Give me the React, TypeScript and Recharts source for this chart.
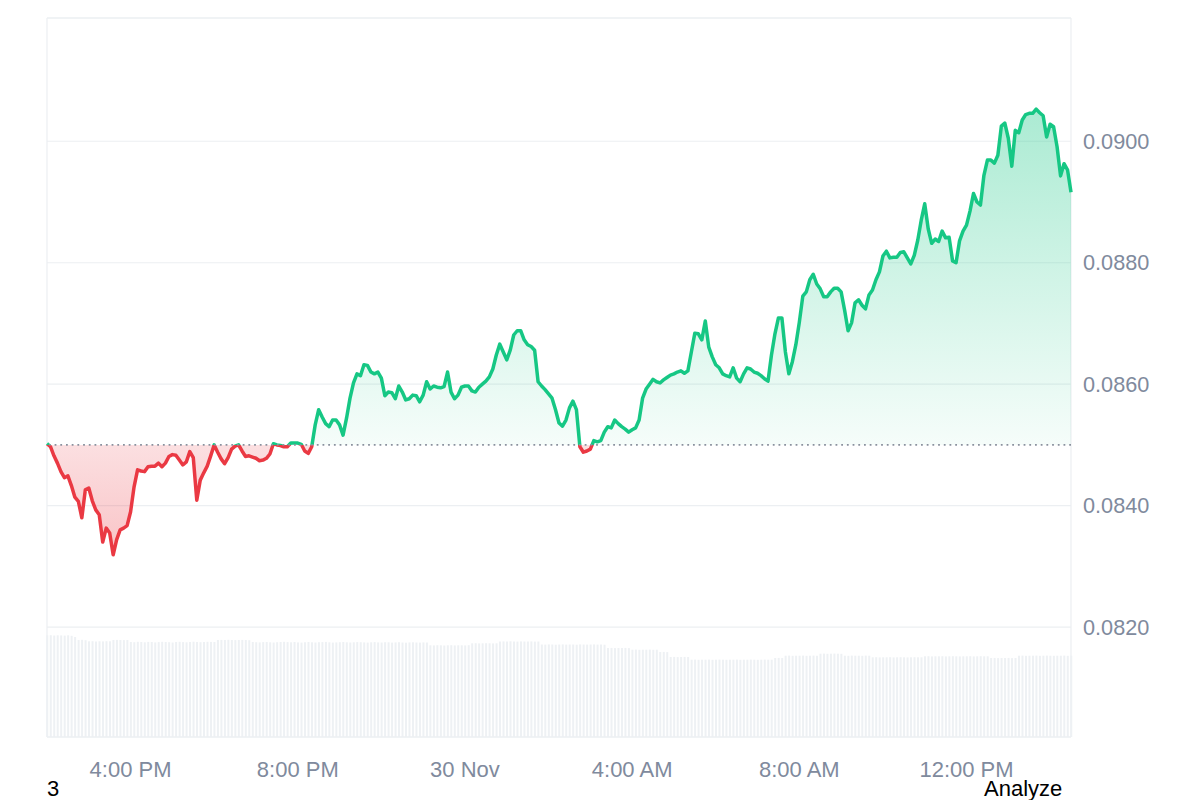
import React from 'react';
import { ComposedChart, Area, Bar, XAxis, YAxis, CartesianGrid, ReferenceLine } from 'recharts';

// 5-minute prices, starting 2:00 PM (29 Nov)
const prices = [
  0.08502, 0.08497, 0.08482, 0.08470, 0.08456, 0.08446, 0.08449, 0.08433, 0.08414, 0.08407,
  0.08380, 0.08426, 0.08429, 0.08408, 0.08393, 0.08385, 0.08340, 0.08363, 0.08355, 0.08319,
  0.08344, 0.08360, 0.08363, 0.08367, 0.08390, 0.08431, 0.08459, 0.08457, 0.08456, 0.08464,
  0.08465, 0.08465, 0.08470, 0.08464, 0.08470, 0.08481, 0.08484, 0.08483, 0.08475, 0.08467,
  0.08472, 0.08489, 0.08479, 0.08409, 0.08442, 0.08454, 0.08465, 0.08482, 0.08500, 0.08488,
  0.08477, 0.08469, 0.08479, 0.08493, 0.08498, 0.08500, 0.08490, 0.08481, 0.08482, 0.08480,
  0.08478, 0.08474, 0.08475, 0.08478, 0.08485, 0.08502, 0.08500, 0.08499, 0.08497, 0.08497,
  0.08503, 0.08503, 0.08503, 0.08501, 0.08490, 0.08486, 0.08497, 0.08533, 0.08558, 0.08546,
  0.08535, 0.08530, 0.08541, 0.08541, 0.08533, 0.08516, 0.08544, 0.08577, 0.08602, 0.08617,
  0.08614, 0.08632, 0.08631, 0.08620, 0.08617, 0.08620, 0.08610, 0.08581, 0.08587, 0.08586,
  0.08576, 0.08597, 0.08587, 0.08574, 0.08576, 0.08582, 0.08581, 0.08571, 0.08582, 0.08604,
  0.08592, 0.08597, 0.08595, 0.08594, 0.08596, 0.08620, 0.08587, 0.08576, 0.08582, 0.08595,
  0.08597, 0.08597, 0.08589, 0.08587, 0.08595, 0.08600, 0.08605, 0.08612, 0.08625, 0.08648,
  0.08666, 0.08653, 0.08640, 0.08656, 0.08681, 0.08688, 0.08688, 0.08673, 0.08665, 0.08662,
  0.08656, 0.08604, 0.08597, 0.08591, 0.08584, 0.08577, 0.08558, 0.08536, 0.08531, 0.08541,
  0.08561, 0.08572, 0.08558, 0.08497, 0.08488, 0.08490, 0.08493, 0.08507, 0.08505, 0.08507,
  0.08521, 0.08530, 0.08528, 0.08541, 0.08535, 0.08530, 0.08526, 0.08521, 0.08525, 0.08528,
  0.08541, 0.08577, 0.08592, 0.08600, 0.08608, 0.08604, 0.08602, 0.08607, 0.08611, 0.08615,
  0.08617, 0.08620, 0.08622, 0.08618, 0.08622, 0.08653, 0.08684, 0.08683, 0.08673, 0.08704,
  0.08661, 0.08645, 0.08632, 0.08627, 0.08617, 0.08614, 0.08612, 0.08627, 0.08610, 0.08604,
  0.08617, 0.08627, 0.08625, 0.08620, 0.08618, 0.08614, 0.08609, 0.08605, 0.08648, 0.08683,
  0.08709, 0.08709, 0.08653, 0.08617, 0.08637, 0.08665, 0.08702, 0.08745, 0.08752, 0.08772,
  0.08781, 0.08765, 0.08757, 0.08744, 0.08744, 0.08752, 0.08758, 0.08758, 0.08752, 0.08722,
  0.08688, 0.08701, 0.08734, 0.08739, 0.08730, 0.08724, 0.08747, 0.08755, 0.08772, 0.08785,
  0.08811, 0.08819, 0.08808, 0.08809, 0.08809, 0.08817, 0.08818, 0.08808, 0.08798, 0.08812,
  0.08837, 0.08870, 0.08897, 0.08856, 0.08832, 0.08839, 0.08835, 0.08852, 0.08841, 0.08842,
  0.08803, 0.08800, 0.08836, 0.08852, 0.08862, 0.08885, 0.08914, 0.08900, 0.08895, 0.08944,
  0.08969, 0.08969, 0.08964, 0.08977, 0.09025, 0.09030, 0.09005, 0.08959, 0.09018, 0.09014,
  0.09035, 0.09044, 0.09046, 0.09046, 0.09053, 0.09047, 0.09042, 0.09007, 0.09028, 0.09024,
  0.08991, 0.08943, 0.08963, 0.08953, 0.08916,
];

// rolling volume (millions)
const volumes = [
  10.17, 10.18, 10.15, 10.17, 10.16, 10.14, 10.17, 10.12,
  10.0,
  9.70, 9.72, 9.68,
  9.57, 9.58, 9.55, 9.57, 9.56, 9.58, 9.57,
  9.70, 9.71, 9.70, 9.69, 9.70,
  9.50, 9.48, 9.52, 9.50, 9.47, 9.51, 9.50, 9.46, 9.49, 9.52, 9.50, 9.48, 9.45, 9.50, 9.52, 9.49, 9.47, 9.50, 9.53, 9.50, 9.48, 9.50, 9.52, 9.51, 9.50,
  9.70, 9.71, 9.70, 9.72, 9.70, 9.69, 9.70, 9.71, 9.70, 9.68,
  9.50, 9.48, 9.46, 9.49, 9.50, 9.47, 9.45, 9.48, 9.50, 9.52, 9.49, 9.47, 9.50, 9.46, 9.44, 9.48, 9.50,
  9.47, 9.45, 9.48, 9.49, 9.51, 9.47, 9.44, 9.46, 9.48, 9.50, 9.47, 9.45, 9.47, 9.49, 9.48, 9.46,
  9.44, 9.47, 9.49, 9.46, 9.45, 9.48, 9.47, 9.44, 9.46, 9.48, 9.45, 9.43, 9.46, 9.47, 9.45, 9.44, 9.46, 9.45,
  9.17, 9.16, 9.18, 9.17, 9.15, 9.17, 9.18, 9.16, 9.17, 9.17, 9.16, 9.18,
  9.37, 9.38, 9.36, 9.37, 9.38, 9.37, 9.36, 9.37,
  9.55, 9.56, 9.55, 9.57, 9.55, 9.54, 9.56, 9.55, 9.55, 9.56, 9.54, 9.55,
  9.25, 9.24, 9.26, 9.25, 9.23, 9.25, 9.26, 9.24, 9.25, 9.25, 9.23, 9.26, 9.25, 9.24, 9.25, 9.26, 9.24, 9.25, 9.23,
  8.90, 8.91, 8.89, 8.90, 8.90, 8.91, 8.89,
  8.73, 8.74, 8.72, 8.73, 8.73, 8.74, 8.72, 8.73,
  8.50, 8.51, 8.49,
  8.00, 8.01, 7.99, 8.00, 8.01, 8.00,
  7.73, 7.74, 7.72, 7.73, 7.73, 7.74, 7.72, 7.73, 7.74, 7.73, 7.72, 7.73, 7.73, 7.74, 7.72, 7.73, 7.73, 7.74, 7.73, 7.72, 7.73, 7.74, 7.73, 7.73,
  7.90, 7.91, 7.90,
  8.13, 8.14, 8.12, 8.13, 8.13, 8.14, 8.12, 8.13, 8.14, 8.13,
  8.33, 8.34, 8.32, 8.33, 8.34, 8.33, 8.32,
  8.13, 8.12, 8.14, 8.13, 8.13, 8.12, 8.14, 8.13,
  7.97, 7.98, 7.96, 7.97, 7.97, 7.98, 7.96, 7.97, 7.98, 7.97, 7.96, 7.97, 7.98, 7.97, 7.97,
  8.07, 8.08, 8.06, 8.07, 8.07, 8.08, 8.06, 8.07, 8.08, 8.07, 8.06, 8.07, 8.07, 8.08, 8.06, 8.07, 8.08, 8.07, 8.07,
  7.90, 7.91, 7.89, 7.90, 7.90, 7.91, 7.89, 7.90,
  8.13, 8.14, 8.12, 8.13, 8.13, 8.14, 8.12, 8.13, 8.14, 8.13, 8.12, 8.13, 8.13, 8.14, 8.12, 8.13,
];

const stepMinutes = 5;
const xTicks = [120, 360, 600, 840, 1080, 1320];
const xTickLabels = ['4:00 PM', '8:00 PM', '30 Nov', '4:00 AM', '8:00 AM', '12:00 PM'];
const yTicks = [0.082, 0.084, 0.086, 0.088, 0.09];
const openPrice = 0.085;
const priceDomain = [0.08019, 0.09203];
const volumeDomain = [0, 71.9];

const GREEN = '#16c784';
const RED = '#ea3943';
const GRID = '#eceff2';
const TICK = '#808a9d';
const FONT = '"Liberation Sans", Arial, Helvetica, sans-serif';

const data = prices.map((p, i) => ({ t: i * stepMinutes, price: p, volume: volumes[i] }));

export default function App() {
  const maxP = Math.max(...prices);
  const minP = Math.min(...prices);
  const off = (maxP - openPrice) / (maxP - minP);
  return (
    <div style={{ position: 'absolute', left: 0, top: 0, width: 1200, height: 800, background: '#fff', fontFamily: FONT, overflow: 'hidden' }}>
      <ComposedChart width={1200} height={800} data={data} margin={{ top: 18, right: 0, bottom: 0, left: 47 }}>
        <defs>
          <linearGradient id="priceStroke" x1="0" y1="0" x2="0" y2="1">
            <stop offset={0} stopColor={GREEN} />
            <stop offset={off} stopColor={GREEN} />
            <stop offset={off} stopColor={RED} />
            <stop offset={1} stopColor={RED} />
          </linearGradient>
          <linearGradient id="priceFill" x1="0" y1="0" x2="0" y2="1">
            <stop offset={0} stopColor={GREEN} stopOpacity={0.36} />
            <stop offset={off} stopColor={GREEN} stopOpacity={0.04} />
            <stop offset={off} stopColor={RED} stopOpacity={0.16} />
            <stop offset={1} stopColor={RED} stopOpacity={0.3} />
          </linearGradient>
        </defs>
        <CartesianGrid
          yAxisId="price"
          stroke={GRID}
          strokeWidth={1.2}
          verticalCoordinatesGenerator={({ offset }: any) => [offset.left, offset.left + offset.width]}
        />
        <XAxis
          dataKey="t"
          type="number"
          domain={[0, (prices.length - 1) * stepMinutes]}
          ticks={xTicks}
          interval={0}
          tickFormatter={(v: number) => xTickLabels[xTicks.indexOf(v)]}
          axisLine={{ stroke: GRID }}
          tickLine={false}
          tickSize={0}
          tickMargin={24}
          height={63}
          tick={{ fill: TICK, fontSize: 22, fontFamily: FONT }}
        />
        <YAxis
          yAxisId="price"
          orientation="right"
          domain={priceDomain}
          allowDataOverflow
          ticks={yTicks}
          tickFormatter={(v: number) => v.toFixed(4)}
          axisLine={false}
          tickLine={false}
          tickSize={0}
          tickMargin={12}
          width={129}
          tick={{ fill: TICK, fontSize: 21.7, fontFamily: FONT, textAnchor: 'start' }}
        />
        <YAxis yAxisId="vol" hide domain={volumeDomain} allowDataOverflow />
        <ReferenceLine yAxisId="price" y={priceDomain[1]} stroke={GRID} strokeWidth={1.2} />
        <Bar yAxisId="vol" dataKey="volume" fill="#eef1f4" barSize={2} isAnimationActive={false} />
        <Area
          yAxisId="price"
          type="linear"
          dataKey="price"
          baseValue={openPrice}
          stroke="url(#priceStroke)"
          strokeWidth={3.5}
          strokeLinejoin="round"
          fill="url(#priceFill)"
          fillOpacity={1}
          dot={false}
          activeDot={false}
          isAnimationActive={false}
        />
        <ReferenceLine yAxisId="price" y={openPrice} stroke="#8a919e" strokeWidth={1.6} strokeDasharray="1.8 3.9" />
      </ComposedChart>
      <div style={{ position: 'absolute', left: 47, top: 776, fontSize: 22, color: '#000', lineHeight: '25px' }}>3</div>
      <div style={{ position: 'absolute', left: 984, top: 776, fontSize: 22, color: '#000', lineHeight: '25px' }}>Analyze</div>
    </div>
  );
}
